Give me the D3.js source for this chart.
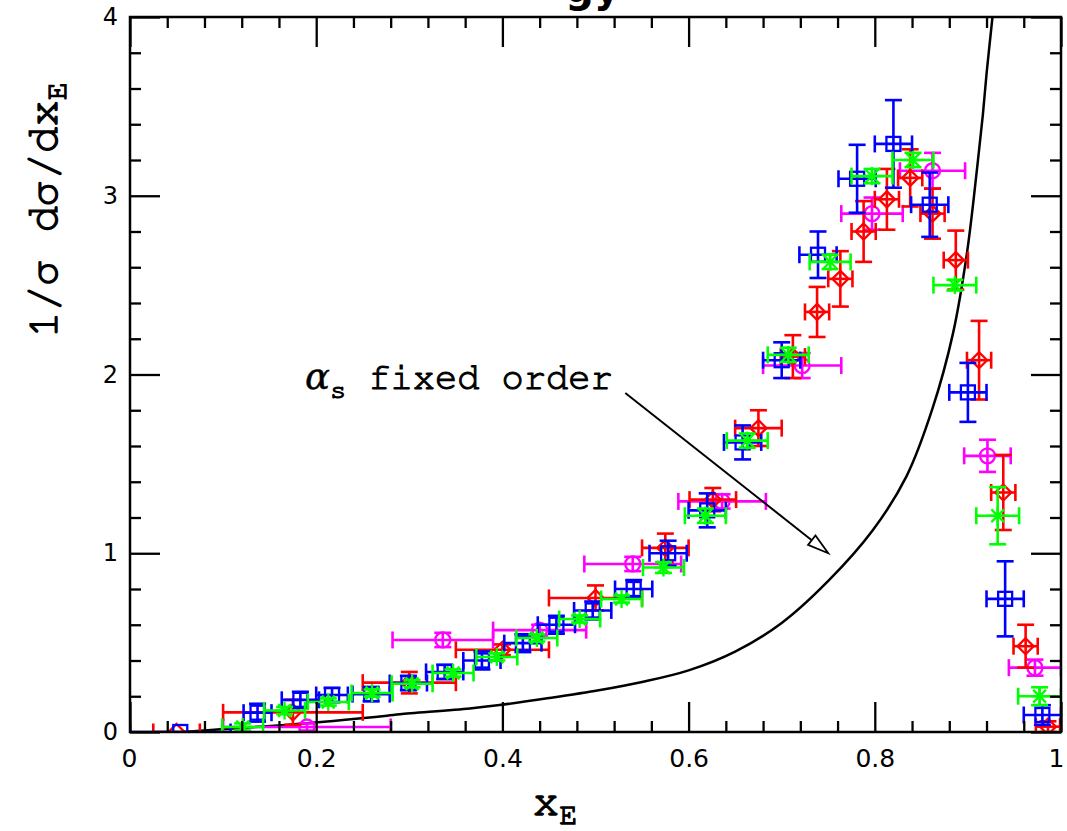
<!DOCTYPE html>
<html><head><meta charset="utf-8">
<script src="https://cdn.jsdelivr.net/npm/d3@7"></script>
<style>body{margin:0;background:#fff}</style>
</head><body>
<svg id="chart" width="1067" height="831"></svg>
<script>
// ---- data ----
const xTickValues = [0, 0.2, 0.4, 0.6, 0.8, 1];
const xTickLabels = ["0", "0.2", "0.4", "0.6", "0.8", "1"];
const yTickValues = [0, 1, 2, 3, 4];
const yTickLabels = ["0", "1", "2", "3", "4"];

// fixed-order curve
const curveX = [0.056, 0.097, 0.19, 0.276, 0.29, 0.365, 0.397, 0.45, 0.505, 0.55, 0.60, 0.65, 0.70, 0.75, 0.798, 0.834, 0.862, 0.884, 0.899, 0.910, 0.916, 0.920, 0.926, 0.928];
const curveY = [0.0, 0.015, 0.049, 0.091, 0.099, 0.132, 0.151, 0.19, 0.235, 0.28, 0.345, 0.45, 0.61, 0.845, 1.13, 1.43, 1.81, 2.23, 2.68, 3.16, 3.45, 3.68, 3.98, 4.08];

// red diamonds
const redX    = [0.05, 0.175, 0.30, 0.40, 0.50, 0.575, 0.626, 0.675, 0.712, 0.738, 0.763, 0.788, 0.813, 0.838, 0.862, 0.887, 0.912, 0.938, 0.962, 0.986];
const redY    = [0.0, 0.11, 0.276, 0.46, 0.75, 1.03, 1.30, 1.70, 2.10, 2.35, 2.535, 2.80, 2.98, 3.10, 2.90, 2.64, 2.08, 1.34, 0.48, 0.03];
const redXerr = [0.025, 0.075, 0.05, 0.05, 0.05, 0.025, 0.025, 0.025, 0.013, 0.013, 0.013, 0.013, 0.013, 0.013, 0.013, 0.013, 0.013, 0.013, 0.013, 0.013];
const redYerr = [0.0, 0.07, 0.06, 0.03, 0.07, 0.08, 0.065, 0.10, 0.12, 0.14, 0.155, 0.17, 0.17, 0.16, 0.14, 0.165, 0.22, 0.21, 0.12, 0.03];

// blue squares
const blueX    = [0.054, 0.137, 0.183, 0.217, 0.259, 0.299, 0.338, 0.378, 0.422, 0.458, 0.497, 0.541, 0.578, 0.620, 0.658, 0.700, 0.739, 0.781, 0.820, 0.859, 0.900, 0.940, 0.980];
const blueY    = [0.0, 0.108, 0.18, 0.207, 0.212, 0.274, 0.336, 0.40, 0.497, 0.60, 0.68, 0.80, 1.0, 1.24, 1.62, 2.08, 2.67, 3.095, 3.29, 2.95, 1.90, 0.745, 0.095];
const blueXerr = [0.054, 0.015, 0.02, 0.017, 0.02, 0.02, 0.02, 0.02, 0.02, 0.02, 0.02, 0.02, 0.02, 0.02, 0.02, 0.02, 0.02, 0.02, 0.02, 0.02, 0.02, 0.02, 0.02];
const blueYerr = [0.0, 0.05, 0.045, 0.04, 0.04, 0.04, 0.04, 0.05, 0.05, 0.05, 0.05, 0.05, 0.07, 0.095, 0.095, 0.10, 0.13, 0.19, 0.245, 0.18, 0.165, 0.21, 0.055];

// green asterisks
const greenX    = [0.121, 0.166, 0.213, 0.26, 0.303, 0.347, 0.394, 0.437, 0.483, 0.528, 0.573, 0.618, 0.663, 0.707, 0.752, 0.797, 0.841, 0.886, 0.932, 0.977];
const greenY    = [0.028, 0.12, 0.168, 0.218, 0.27, 0.33, 0.42, 0.526, 0.632, 0.744, 0.92, 1.21, 1.63, 2.11, 2.63, 3.11, 3.20, 2.50, 1.21, 0.20];
const greenXerr = [0.022, 0.022, 0.022, 0.022, 0.022, 0.022, 0.022, 0.022, 0.022, 0.022, 0.022, 0.022, 0.022, 0.022, 0.022, 0.022, 0.022, 0.023, 0.023, 0.023];
const greenYerr = [0.02, 0.02, 0.02, 0.02, 0.02, 0.02, 0.02, 0.02, 0.02, 0.02, 0.03, 0.04, 0.04, 0.04, 0.04, 0.04, 0.04, 0.03, 0.16, 0.05];

// magenta circles
const magX    = [0.19, 0.336, 0.44, 0.54, 0.636, 0.722, 0.797, 0.862, 0.921, 0.972];
const magY    = [0.028, 0.515, 0.57, 0.94, 1.29, 2.05, 2.90, 3.14, 1.545, 0.36];
const magXerr = [0.09, 0.054, 0.05, 0.052, 0.047, 0.042, 0.033, 0.035, 0.025, 0.028];
const magYerr = [0.02, 0.04, 0.03, 0.04, 0.04, 0.07, 0.09, 0.10, 0.09, 0.045];

// ---- drawing ----
const L = 130, R = 1061, T = 17, B = 732;
const svg = d3.select("#chart");
const x = d3.scaleLinear().domain([0, 1]).range([L, R]);
const y = d3.scaleLinear().domain([0, 4]).range([B, T]);

svg.append("defs").append("clipPath").attr("id", "plotclip")
  .append("rect").attr("x", L).attr("y", T).attr("width", R - L).attr("height", B - T);

const plot = svg.append("g").attr("clip-path", "url(#plotclip)");

plot.append("path")
  .attr("d", d3.line().x(d => x(d[0])).y(d => y(d[1])).curve(d3.curveCatmullRom.alpha(0.5))(curveX.map((v, i) => [v, curveY[i]])))
  .attr("fill", "none").attr("stroke", "#000").attr("stroke-width", 2.5);

const CAP = 8.5;
function drawSeries(xs, ys, xe, ye, color, marker) {
  const g = plot.append("g").attr("stroke", color).attr("fill", "none");
  xs.forEach((xv, i) => {
    const cx = x(xv), cy = y(ys[i]);
    const x0 = x(xv - xe[i]), x1 = x(xv + xe[i]);
    const eg = g.append("g").attr("stroke-width", 2.6);
    eg.append("line").attr("x1", x0).attr("x2", x1).attr("y1", cy).attr("y2", cy);
    eg.append("line").attr("x1", x0).attr("x2", x0).attr("y1", cy - CAP).attr("y2", cy + CAP);
    eg.append("line").attr("x1", x1).attr("x2", x1).attr("y1", cy - CAP).attr("y2", cy + CAP);
    if (ye[i] > 0) {
      const y0 = y(ys[i] - ye[i]), y1 = y(ys[i] + ye[i]);
      eg.append("line").attr("x1", cx).attr("x2", cx).attr("y1", y0).attr("y2", y1);
      eg.append("line").attr("x1", cx - CAP).attr("x2", cx + CAP).attr("y1", y0).attr("y2", y0);
      eg.append("line").attr("x1", cx - CAP).attr("x2", cx + CAP).attr("y1", y1).attr("y2", y1);
    }
    const mg = g.append("g").attr("stroke-width", 2.3).attr("transform", `translate(${cx},${cy})`);
    if (marker === "square") {
      mg.append("rect").attr("x", -7).attr("y", -7).attr("width", 14).attr("height", 14);
    } else if (marker === "diamond") {
      mg.append("path").attr("d", "M0,-8L8,0L0,8L-8,0Z");
    } else if (marker === "circle") {
      mg.append("circle").attr("r", 7.5);
    } else if (marker === "asterisk") {
      const r = 9;
      [0, 45, 90, 135].forEach(a => {
        const c = Math.cos(a * Math.PI / 180) * r, s = Math.sin(a * Math.PI / 180) * r;
        mg.append("line").attr("x1", -c).attr("y1", -s).attr("x2", c).attr("y2", s);
      });
    }
  });
}
drawSeries(magX, magY, magXerr, magYerr, "#ff00ff", "circle");
drawSeries(redX, redY, redXerr, redYerr, "#ff0000", "diamond");
drawSeries(blueX, blueY, blueXerr, blueYerr, "#0000ff", "square");
drawSeries(greenX, greenY, greenXerr, greenYerr, "#00ff00", "asterisk");

const xMinor = d3.range(0, 1.0001, 0.04).filter(v => Math.abs(v * 5 - Math.round(v * 5)) > 1e-6);
const yMinor = d3.range(0, 4.0001, 0.2).filter(v => Math.abs(v - Math.round(v)) > 1e-6);
const tickStyle = sel => { sel.select(".domain").remove(); sel.selectAll("line").attr("stroke", "#000").attr("stroke-width", 2.3); };
const fmtX = d => xTickLabels[xTickValues.indexOf(d)];
const fmtY = d => yTickLabels[yTickValues.indexOf(d)];

const xAxisG = svg.append("g").attr("transform", `translate(0,${B})`)
  .call(d3.axisBottom(x).tickValues(xTickValues).tickFormat(fmtX).tickSize(-30).tickPadding(17))
  .call(tickStyle);
xAxisG.selectAll("text").attr("font-family", "DejaVu Sans").attr("font-size", 25).attr("fill", "#000")
  .attr("dx", (d) => d === 1 ? -5 : (d === 0 ? -1 : 0));
svg.append("g").attr("transform", `translate(0,${B})`)
  .call(d3.axisBottom(x).tickValues(xMinor).tickFormat("").tickSize(-11)).call(tickStyle);
svg.append("g").attr("transform", `translate(0,${T})`)
  .call(d3.axisTop(x).tickValues(xTickValues).tickFormat("").tickSize(-30)).call(tickStyle);
svg.append("g").attr("transform", `translate(0,${T})`)
  .call(d3.axisTop(x).tickValues(xMinor).tickFormat("").tickSize(-11)).call(tickStyle);
svg.append("g").attr("transform", `translate(${L},0)`)
  .call(d3.axisLeft(y).tickValues(yTickValues).tickFormat(fmtY).tickSize(-30).tickPadding(12))
  .call(tickStyle)
  .selectAll("text").attr("font-family", "DejaVu Sans").attr("font-size", 24).attr("fill", "#000");
svg.append("g").attr("transform", `translate(${L},0)`)
  .call(d3.axisLeft(y).tickValues(yMinor).tickFormat("").tickSize(-11)).call(tickStyle);
svg.append("g").attr("transform", `translate(${R},0)`)
  .call(d3.axisRight(y).tickValues(yTickValues).tickFormat("").tickSize(-30)).call(tickStyle);
svg.append("g").attr("transform", `translate(${R},0)`)
  .call(d3.axisRight(y).tickValues(yMinor).tickFormat("").tickSize(-11)).call(tickStyle);

svg.append("rect").attr("x", L).attr("y", T).attr("width", R - L).attr("height", B - T)
  .attr("fill", "none").attr("stroke", "#000").attr("stroke-width", 2.5);

// Courier-like typewriter face for titles (regular, slightly thickened)
const mono = "'FreeMono', 'Courier New', monospace";
const ylab = svg.append("text").attr("transform", `translate(57,210) rotate(-90)`)
  .attr("text-anchor", "middle").style("font-family", mono)
  .attr("font-size", 44).attr("fill", "#000").attr("stroke", "#000").attr("stroke-width", 1.3);
ylab.append("tspan").text("1/σ dσ/dx");
ylab.append("tspan").attr("dy", 9).attr("font-size", 30).text("E");

const xlab = svg.append("text").attr("x", 555).attr("y", 815)
  .attr("text-anchor", "middle").style("font-family", mono)
  .attr("font-size", 44).attr("fill", "#000").attr("stroke", "#000").attr("stroke-width", 1.3);
xlab.append("tspan").text("x");
xlab.append("tspan").attr("dy", 9).attr("font-size", 30).text("E");

svg.append("text").attr("x", 620).attr("y", 2).attr("text-anchor", "end")
  .attr("font-family", "DejaVu Sans").attr("font-size", 40).attr("font-weight", "bold").attr("fill", "#000")
  .text("gy");

const annX = 0.188, annY = 1.92;
const ann = svg.append("text").attr("x", x(annX)).attr("y", y(annY))
  .style("font-family", mono).attr("font-size", 37).attr("fill", "#000")
  .attr("stroke", "#000").attr("stroke-width", 1.1);
ann.append("tspan").style("font-family", "'DejaVu Serif'").attr("stroke-width", 0.4).attr("font-style", "italic").text("α");
ann.append("tspan").attr("dy", 9).attr("font-size", 27).text("s");
ann.append("tspan").attr("dy", -9).text(" fixed order");

const arrowFrom = [0.532, 1.897], arrowTo = [0.750, 1.0];
const ax0 = x(arrowFrom[0]), ay0 = y(arrowFrom[1]), ax1 = x(arrowTo[0]), ay1 = y(arrowTo[1]);
const ang = Math.atan2(ay1 - ay0, ax1 - ax0);
const hl = 21, hw = 6;
const bx = ax1 - hl * Math.cos(ang), by = ay1 - hl * Math.sin(ang);
svg.append("line").attr("x1", ax0).attr("y1", ay0).attr("x2", bx).attr("y2", by)
  .attr("stroke", "#000").attr("stroke-width", 2);
svg.append("path")
  .attr("d", `M${ax1},${ay1}L${bx - hw * Math.sin(ang)},${by + hw * Math.cos(ang)}L${bx + hw * Math.sin(ang)},${by - hw * Math.cos(ang)}Z`)
  .attr("fill", "#fff").attr("stroke", "#000").attr("stroke-width", 1.8);
</script>
</body></html>
